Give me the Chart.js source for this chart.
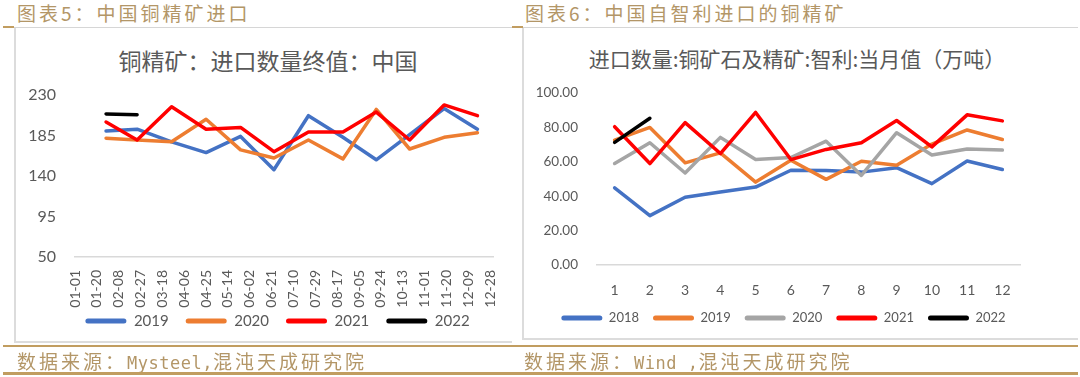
<!DOCTYPE html>
<html lang="zh-CN">
<head>
<meta charset="utf-8">
<script src="https://cdn.jsdelivr.net/npm/chart.js@4.4.1/dist/chart.umd.min.js"></script>
<style>
  body { margin: 0; background: #fff; }
  #page { position: relative; width: 1080px; height: 377px; overflow: hidden; background: #fff;
          font-family: "Noto Sans CJK SC", sans-serif; }
  .abs { position: absolute; }
  .cap { color: #b39667; font-size: 19px; letter-spacing: 3px; line-height: 26px; white-space: nowrap; }
  .cap .lat { font-family: "DejaVu Sans Mono", monospace; font-size: 17px; letter-spacing: 0.5px; }
  .gray { background: #d6d6d6; }
  .gold { background: #c19d60; }
  .frame { background: #dcdcdc; }
  .ctitle { color: #595959; white-space: nowrap; transform: translateX(-50%); }
  canvas { position: absolute; }
</style>
</head>
<body>
<div id="page">
  <!-- headers -->
  <div class="abs cap" style="left:17px;top:0">图表5：中国铜精矿进口</div>
  <div class="abs cap" style="left:525px;top:0">图表6：中国自智利进口的铜精矿</div>
  <div class="abs gray" style="left:3px;top:27px;width:1075px;height:1px"></div>
  <div class="abs gold" style="left:3px;top:26px;width:11px;height:2px"></div>
  <div class="abs gold" style="left:512px;top:26px;width:11px;height:2px"></div>

  <!-- chart frames -->
  <div class="abs frame" style="left:14px;top:28px;width:1.5px;height:314px"></div>
  <div class="abs frame" style="left:14px;top:341px;width:498px;height:1.5px"></div>
  <div class="abs frame" style="left:522px;top:28px;width:1.5px;height:311px"></div>
  <div class="abs frame" style="left:522px;top:338px;width:556px;height:1.5px"></div>

  <!-- chart titles -->
  <div class="abs ctitle" style="left:268px;top:46px;font-size:23px;line-height:28px">铜精矿：进口数量终值：中国</div>
  <div class="abs ctitle" style="left:797px;top:45px;font-size:21px;line-height:26px">进口数量:铜矿石及精矿:智利:当月值（万吨）</div>

  <!-- canvases are transparent; they may run past the frames -->
  <canvas id="c1" width="498" height="331" style="left:14px;top:28px"></canvas>
  <canvas id="c2" width="553" height="314" style="left:523px;top:28px"></canvas>

  <!-- footers -->
  <div class="abs gold" style="left:3px;top:345px;width:1075px;height:2px"></div>
  <div class="abs cap" style="left:17px;top:348px">数据来源：<span class="lat">Mysteel,</span>混沌天成研究院</div>
  <div class="abs cap" style="left:524px;top:348px">数据来源：<span class="lat">Wind ,</span>混沌天成研究院</div>
  <div class="abs gold" style="left:3px;top:372px;width:1075px;height:3px"></div>
</div>

<script>
"use strict";

// ─── Chart 5: China copper concentrate imports (day of year) ──
const leftTickLabels = ["01-01", "01-20", "02-08", "02-27", "03-18", "04-06", "04-25",
  "05-14", "06-02", "06-21", "07-10", "07-29", "08-17", "09-05", "09-24", "10-13",
  "11-01", "11-20", "12-09", "12-28"];
const leftTickDays = [0, 19, 38, 57, 76, 95, 114, 133, 152, 171, 190, 209, 228, 247,
  266, 285, 304, 323, 342, 361];
const leftDays = [27, 54, 84, 114, 144, 173, 203, 233, 262, 291, 321, 350];
const cn2019 = [190, 192, 178, 166, 184, 147, 207, 183, 158, 186, 215, 192];
const cn2020 = [182, 180, 178, 203, 169, 160, 180, 159, 214, 170, 183, 188];
const cn2021 = [200, 180, 217, 192, 194, 167, 189, 189, 211, 180, 219, 207];
const cn2022 = [209, 208];

// ─── Chart 6: imports from Chile, monthly ─────────────────────
const months = ["1", "2", "3", "4", "5", "6", "7", "8", "9", "10", "11", "12"];
const cl2018 = [44.9, 28.7, 39.4, 42.4, 45.3, 55.1, 55.0, 54.0, 56.6, 47.3, 60.5, 55.5];
const cl2019 = [72.6, 80.0, 59.4, 65.2, 48.2, 60.9, 49.8, 60.3, 58.0, 70.3, 78.5, 73.0];
const cl2020 = [59.0, 71.1, 53.5, 74.2, 61.3, 62.5, 72.0, 52.1, 76.9, 63.9, 67.4, 66.8];
const cl2021 = [80.4, 59.0, 82.8, 64.8, 88.7, 61.3, 67.2, 71.1, 84.0, 68.7, 87.3, 83.8];
const cl2022 = [71.3, 85.3];

const BLUE = "#4472C4", ORANGE = "#ED7D31", GRAY = "#A5A5A5", RED = "#FF0000", BLACK = "#000000";
const TXT = "#595959";
const AXIS = "#d9d9d9";

const toPts = (xs, ys) => ys.map((y, i) => ({ x: xs[i], y }));

// Excel centres the legend under the whole frame, not under the plot:
// after layout, move the legend box so its text sits at (cx, cy).
const legendSpot = {
  id: "legendSpot",
  afterLayout(chart, args, opts) {
    const lg = chart.legend;
    if (!lg || opts.cx == null) return;
    const w = lg.right - lg.left, h = lg.bottom - lg.top;
    const lab = lg.options.labels;
    lg.left = opts.cx - w / 2; lg.right = lg.left + w;
    lg.top = opts.cy - lab.padding - lab.font.size / 2; lg.bottom = lg.top + h;
  },
};

// later series sit on top, like Excel; legend flipped back with reverse
function series(label, color, data, order) {
  return {
    label, data, order,
    borderColor: color, backgroundColor: color,
    borderWidth: 3.5, pointRadius: 0, tension: 0,
    borderJoinStyle: "round", borderCapStyle: "round",
  };
}

function legend(size, gap) {
  return {
    position: "bottom",
    reverse: true,
    labels: {
      boxWidth: 41, boxHeight: 5, padding: gap,
      useBorderRadius: true, borderRadius: 2.5,
      color: TXT, font: { family: "Lato", size },
      generateLabels: (c) =>
        Chart.defaults.plugins.legend.labels.generateLabels(c).map((l) => ({ ...l, lineWidth: 0 })),
    },
  };
}

// note: tick padding below is on top of the 8px tick length Chart.js still reserves
new Chart(document.getElementById("c1"), {
  type: "line",
  plugins: [legendSpot],
  data: {
    datasets: [
      series("2019", BLUE, toPts(leftDays, cn2019), 4),
      series("2020", ORANGE, toPts(leftDays, cn2020), 3),
      series("2021", RED, toPts(leftDays, cn2021), 2),
      series("2022", BLACK, toPts(leftDays, cn2022), 1),
    ],
  },
  options: {
    responsive: false, animation: false, devicePixelRatio: 1,
    layout: { padding: { left: 0, right: 12, top: 67, bottom: 0 } },
    plugins: {
      legend: legend(15, 17),
      legendSpot: { cx: 263.5, cy: 293 },
      tooltip: { enabled: false },
    },
    scales: {
      x: {
        type: "linear", min: 0, max: 364,
        afterBuildTicks: (s) => { s.ticks = leftTickDays.map((v) => ({ value: v })); },
        afterFit: (s) => { s.height = 60; },
        grid: { display: false },
        border: { color: AXIS, width: 1.5 },
        ticks: {
          autoSkip: false, minRotation: 90, maxRotation: 90, padding: 5,
          color: TXT, font: { family: "Lato", size: 14 },
          callback: (v, i) => leftTickLabels[i],
        },
      },
      y: {
        min: 50, max: 230,
        afterFit: (s) => { s.width = 61; },
        grid: { display: false },
        border: { display: false },
        ticks: { stepSize: 45, padding: 11, color: TXT, font: { family: "Lato", size: 16 } },
      },
    },
  },
});

new Chart(document.getElementById("c2"), {
  type: "line",
  plugins: [legendSpot],
  data: {
    labels: months,
    datasets: [
      series("2018", BLUE, cl2018, 5),
      series("2019", ORANGE, cl2019, 4),
      series("2020", GRAY, cl2020, 3),
      series("2021", RED, cl2021, 2),
      series("2022", BLACK, cl2022, 1),
    ],
  },
  options: {
    responsive: false, animation: false, devicePixelRatio: 1,
    layout: { padding: { left: 0, right: 56, top: 65, bottom: 0 } },
    plugins: {
      legend: legend(13, 14),
      legendSpot: { cx: 260.5, cy: 290 },
      tooltip: { enabled: false },
    },
    scales: {
      x: {
        offset: true,
        afterFit: (s) => { s.height = 40; },
        grid: { display: false },
        border: { color: AXIS, width: 1.5 },
        ticks: { padding: 9, color: TXT, font: { family: "Lato", size: 14 } },
      },
      y: {
        min: 0, max: 100,
        afterFit: (s) => { s.width = 74; },
        grid: { display: false },
        border: { display: false },
        ticks: {
          stepSize: 20, padding: 11, color: TXT, font: { family: "Lato", size: 13.5 },
          callback: (v) => v.toFixed(2),
        },
      },
    },
  },
});
</script>
</body>
</html>
